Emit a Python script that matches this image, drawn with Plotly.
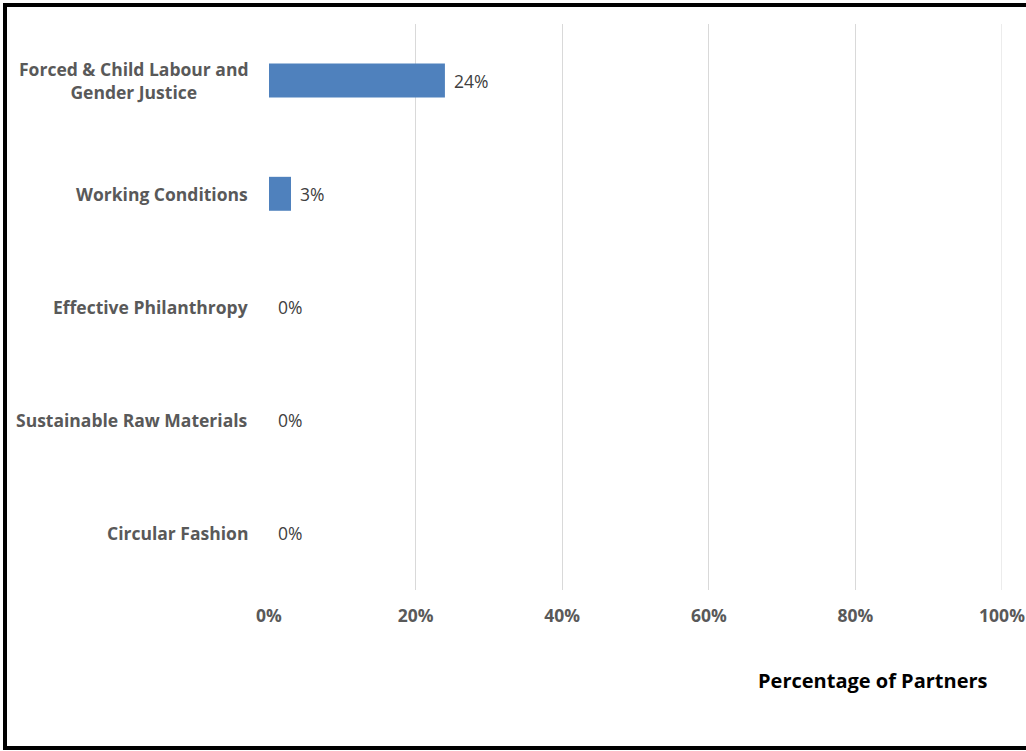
import plotly.graph_objects as go

categories = [
    "Forced & Child Labour and<br>Gender Justice",
    "Working Conditions",
    "Effective Philanthropy",
    "Sustainable Raw Materials",
    "Circular Fashion",
]
shares = [0.24, 0.03, 0.0, 0.0, 0.0]
x_ticks = [0, 0.2, 0.4, 0.6, 0.8, 1.0]

W, H = 1026, 751
ml, mr, mt, mb = 269, 24, 24, 161
pw, ph = W - ml - mr, H - mt - mb

def px_x(p):
    return (p - ml) / pw

def px_y(p):
    return (H - mb - p) / ph

fig = go.Figure()
fig.add_trace(go.Bar(
    x=shares,
    y=categories,
    orientation="h",
    marker=dict(color="#4f81bd", line=dict(width=0)),
    hoverinfo="skip",
))

# value labels to the right of each bar
for c, v in zip(categories, shares):
    fig.add_annotation(
        x=v, y=c, xref="x", yref="y",
        text=f"{v:.0%}", showarrow=False,
        xanchor="left", xshift=7,
        font=dict(family="Open Sans", size=17.5, color="#404040"),
    )

# category labels, centred line-by-line
for c in categories:
    fig.add_annotation(
        x=0, y=c, xref="paper", yref="y",
        text=f"<b>{c}</b>", showarrow=False,
        xanchor="right", xshift=-19, align="center",
        font=dict(family="Open Sans", size=17.5, color="#595959"),
    )

fig.add_annotation(
    x=px_x(873), y=px_y(680), xref="paper", yref="paper",
    text="<b>Percentage of Partners</b>", showarrow=False,
    xanchor="center", yanchor="middle",
    font=dict(family="Open Sans", size=20, color="#000000"),
)

# gridline at the far end of the axis (plotly skips the edge one)
fig.add_shape(
    type="line", xref="x", yref="paper",
    x0=x_ticks[-1], x1=x_ticks[-1], y0=0, y1=1,
    line=dict(color="#d9d9d9", width=1), layer="below",
)

# outer frame
fig.add_shape(
    type="rect", xref="paper", yref="paper",
    x0=px_x(5), x1=px_x(1040), y0=px_y(748), y1=px_y(5),
    line=dict(color="#000000", width=4), layer="above",
)

fig.update_layout(
    width=W, height=H,
    margin=dict(l=ml, r=mr, t=mt, b=mb, autoexpand=False),
    paper_bgcolor="white",
    plot_bgcolor="white",
    showlegend=False,
    bargap=0.7,
    xaxis=dict(
        range=[0, 1],
        tickvals=x_ticks,
        ticktext=[f"<b>{t:.0%}</b>" for t in x_ticks],
        showgrid=True, gridcolor="#d9d9d9", gridwidth=1,
        zeroline=False, showline=False,
        ticks="", ticklabelstandoff=13,
        ticklabeloverflow="allow",
        automargin=False,
        tickfont=dict(family="Open Sans", size=17.5, color="#595959"),
        fixedrange=True,
    ),
    yaxis=dict(
        categoryorder="array", categoryarray=categories,
        autorange="reversed",
        showticklabels=False, showgrid=False,
        zeroline=False, showline=False, ticks="",
        automargin=False,
        fixedrange=True,
    ),
)

fig.write_html("out.html")
